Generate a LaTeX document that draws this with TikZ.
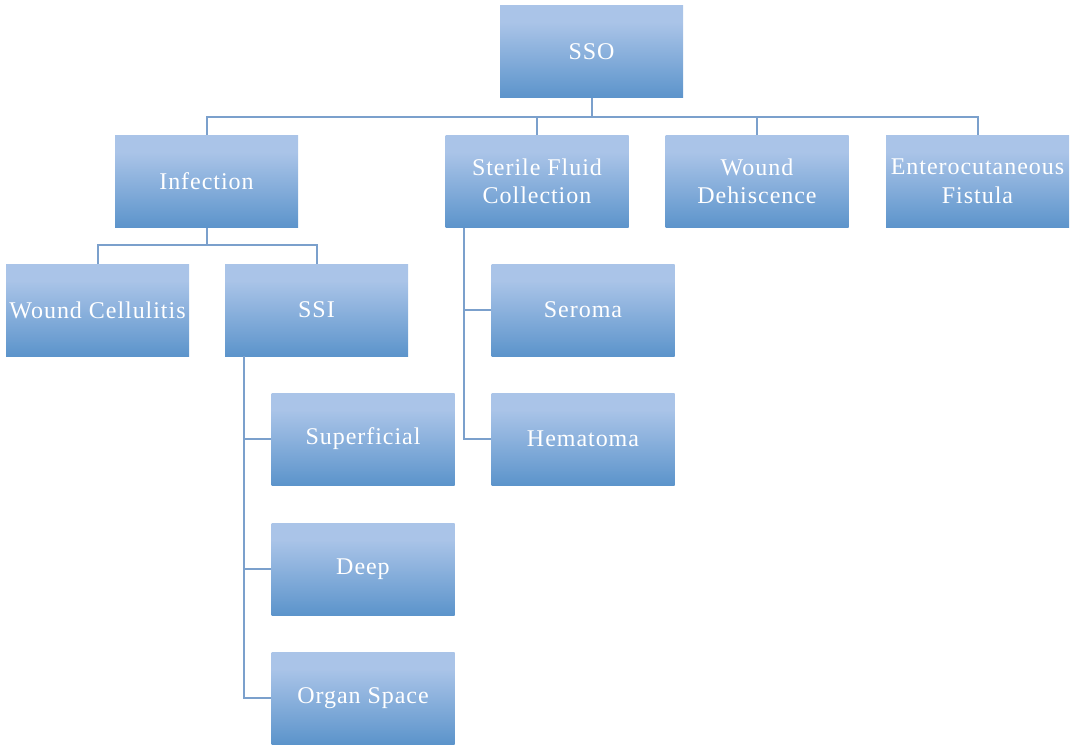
\documentclass[tikz,border=0pt]{standalone}
\usepackage{fontspec}
\setmainfont[LetterSpace=4]{Liberation Serif}
\usepackage{xcolor}
\usetikzlibrary{calc}

\definecolor{boxtop}{HTML}{AAC4E8}
\definecolor{boxbot}{HTML}{5C94CB}
\definecolor{linkblue}{HTML}{7BA0CC}
\pgfdeclareverticalshading{boxfade}{100bp}{color(0bp)=(boxbot); color(25bp)=(boxbot); color(66bp)=(boxtop); color(100bp)=(boxtop)}

\tikzset{
    cat/.style={shading=boxfade, minimum width=183pt, minimum height=92pt,
        inner sep=0pt, align=center, text=white,
        font=\fontsize{24}{28.5}\selectfont},
    link/.style={draw=linkblue, line width=2pt}
}

\begin{document}
\begin{tikzpicture}[x=1pt,y=-1pt]
        \useasboundingbox (0,0) rectangle (1071,746);

        \node[cat] (sso) at (591.5, 51.5) {SSO};

        \node[cat] (inf) at (206.5, 181.5) {Infection};
        \node[cat] (sfc) at (537, 181.5) {Sterile Fluid\\Collection};
        \node[cat] (dehis) at (757, 181.5) {Wound\\Dehiscence};
        \node[cat] (fist) at (977.5, 181.5) {Enterocutaneous\\Fistula};

        \node[cat] (cell) at (97.5, 310) {Wound Cellulitis};
        \node[cat] (ssi) at (316.5, 310) {SSI};

        \node[cat] (ser) at (583, 310) {Seroma};
        \node[cat] (hem) at (583, 439) {Hematoma};

        \node[cat] (sup) at (363, 439) {Superficial};
        \node[cat] (deep) at (363, 569) {Deep};
        \node[cat] (org) at (363, 698) {Organ Space};

        \coordinate (ssobus) at ($(sso.south)+(0,19)$);
        \coordinate (infbus) at ($(inf.south)+(0,17)$);

        \draw[link] (sso.south) -- (ssobus) -| (inf.north);
        \draw[link] (ssobus) -| (sfc.north);
        \draw[link] (ssobus) -| (dehis.north);
        \draw[link] (ssobus) -| (fist.north);

        \draw[link] (inf.south) -- (infbus) -| (cell.north);
        \draw[link] (infbus) -| (ssi.north);

        \draw[link] ($(ssi.south west)+(19,0)$) |- (sup.west);
        \draw[link] ($(ssi.south west)+(19,0)$) |- (deep.west);
        \draw[link] ($(ssi.south west)+(19,0)$) |- (org.west);

        \draw[link] ($(sfc.south west)+(19,0)$) |- (ser.west);
        \draw[link] ($(sfc.south west)+(19,0)$) |- (hem.west);
    \end{tikzpicture}
\end{document}
